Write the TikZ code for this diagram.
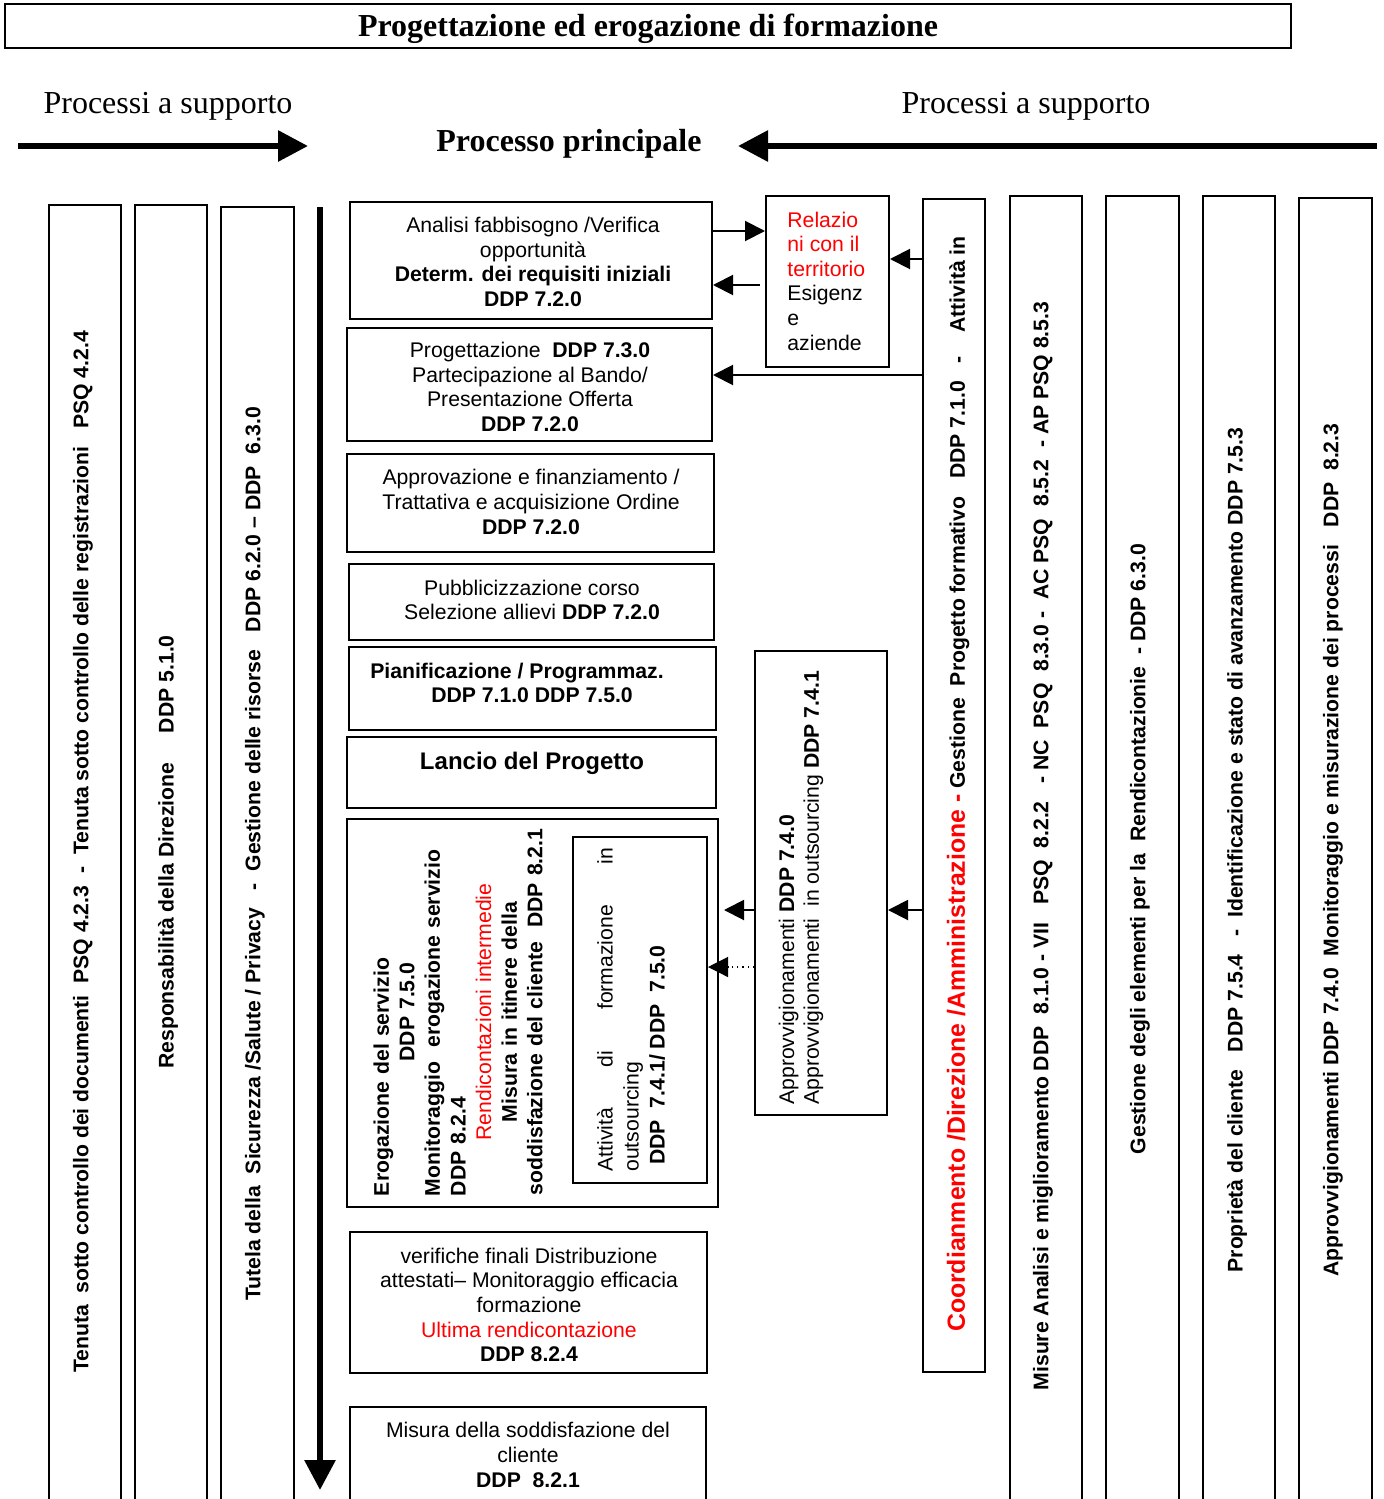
\documentclass[tikz,border=0pt]{standalone}
\usepackage{fontspec}
\setmainfont{Liberation Sans}
\newfontfamily\tnr{Liberation Serif}
\usetikzlibrary{arrows.meta,fit}
\definecolor{wred}{RGB}{255,0,0}
\begin{document}
\begin{tikzpicture}[x=0.5pt,y=-0.5pt,
  box/.style={draw, line width=1pt, inner sep=0pt},
  txt/.style={inner sep=0pt, font=\fontsize{10.6}{12.3}\selectfont, align=center},
  vt/.style={inner sep=0pt, rotate=90, font=\fontsize{10.6}{12.3}\selectfont\bfseries},
  con/.style={line width=1pt, -{Triangle[length=10pt,width=10pt]}},
  dcon/.style={line width=0.6pt, dotted, -{Triangle[length=10pt,width=10pt]}},
  big/.style={line width=3pt, -{Triangle[length=15pt,width=15pt]}},
  serif/.style={inner sep=0pt, font=\tnr\fontsize{16}{19}\selectfont},
  serifb/.style={inner sep=0pt, font=\tnr\bfseries\fontsize{16}{19}\selectfont}
]
\useasboundingbox (0,0) rectangle (1383,1499);
\fill[white] (0,0) rectangle (1383,1499);

% title
\node[box, minimum width=643pt, minimum height=22pt] (title) at (648,26) {};
\node[serifb] (titlet) at (648,29) {Progettazione ed erogazione di formazione};

\node[serif] (ps1) at (168,106) {Processi a supporto};
\node[serif] (ps2) at (1026,106) {Processi a supporto};
\node[serifb] (pp) at (569,144) {Processo principale};

\coordinate (la1) at (18,146); \coordinate (la2) at (308,146);
\draw[big] (la1) -- (la2);
\coordinate (ra1) at (1377,146); \coordinate (ra2) at (738,146);
\draw[big] (ra1) -- (ra2);
\coordinate (va1) at (320,207); \coordinate (va2) at (320,1490);
\draw[big] (va1) -- (va2);

% left support columns
\node[box, fit={(49,205)(121,1520)}] (L1) {};
\node[vt] (L1t) at (83,852) {Tenuta\ \ sotto controllo dei documenti\ \ PSQ 4.2.3\ \ -\ \ Tenuta sotto controllo delle registrazioni\ \ \ PSQ 4.2.4};
\node[box, fit={(135,205)(207,1520)}] (L2) {};
\node[vt] (L2t) at (168,852) {Responsabilità della Direzione\ \ \ \ \ DDP 5.1.0};
\node[box, fit={(221,207)(294,1520)}] (L3) {};
\node[vt] (L3t) at (255,854) {Tutela della\ \ Sicurezza /Salute / Privacy\ \ \ -\ \ Gestione delle risorse\ \ \ DDP 6.2.0 – DDP\ \ 6.3.0};

% right support columns
\node[box, fit={(923,199)(985,1372)}] (co) {};
\node[vt] (cot) at (958,784) {{\fontsize{12.4}{14}\selectfont\color{wred}Coordianmento /Direzione /Amministrazione -} Gestione\ \ Progetto formativo\ \ \ DDP 7.1.0\ \ \ -\ \ \ \ Attività in};
\node[box, fit={(1010,196)(1082,1520)}] (R1) {};
\node[vt] (R1t) at (1043,846) {Misure Analisi e miglioramento DDP\ \ 8.1.0 - VII\ \ \ PSQ\ \ 8.2.2\ \ \ - NC\ \ PSQ\ \ 8.3.0 -\ \ AC PSQ\ \ 8.5.2\ \ - AP PSQ 8.5.3};
\node[box, fit={(1106,196)(1179,1520)}] (R2) {};
\node[vt] (R2t) at (1140,849) {Gestione degli elementi per la\ \ Rendicontazionie\ \ - DDP 6.3.0};
\node[box, fit={(1203,196)(1275,1520)}] (R3) {};
\node[vt] (R3t) at (1237,850) {Proprietà del cliente\ \ \ DDP 7.5.4\ \ \ -\ \ Identificazione e stato di avanzamento DDP 7.5.3};
\node[box, fit={(1299,198)(1372,1520)}] (R4) {};
\node[vt] (R4t) at (1333,850) {Approvvigionamenti DDP 7.4.0\ \ Monitoraggio e misurazione dei processi\ \ \ DDP\ \ 8.2.3};

% main process boxes
\node[box, fit={(350,202)(712,319)}] (b1) {};
\node[txt] (b1t) at (533,262) {Analisi fabbisogno /Verifica\\opportunità\\\textbf{Determ. dei requisiti iniziali}\\\textbf{DDP 7.2.0}};
\node[box, fit={(347,328)(712,441)}] (b2) {};
\node[txt] (b2t) at (530,387) {Progettazione\ \ \textbf{DDP 7.3.0}\\Partecipazione al Bando/\\Presentazione Offerta\\\textbf{DDP 7.2.0}};
\node[box, fit={(347,454)(714,552)}] (b3) {};
\node[txt] (b3t) at (531,502) {Approvazione e finanziamento /\\Trattativa e acquisizione Ordine\\\textbf{DDP 7.2.0}};
\node[box, fit={(349,564)(714,640)}] (b4) {};
\node[txt] (b4t) at (532,600) {Pubblicizzazione corso\\Selezione allievi \textbf{DDP 7.2.0}};
\node[box, fit={(349,647)(716,730)}] (b5) {};
\node[txt, font=\fontsize{10.6}{12.3}\selectfont\bfseries] (b5t) at (532,683) {Pianificazione / Programmaz.\hspace*{15pt}\\DDP 7.1.0 DDP 7.5.0};
\node[box, fit={(347,737)(716,808)}] (b6) {};
\node[txt, font=\fontsize{12}{14}\selectfont\bfseries] (b6t) at (532,763) {Lancio del Progetto};
\node[box, fit={(347,819)(718,1207)}] (b7) {};
\node[txt, rotate=90, text width=184pt, font=\fontsize{10.6}{12.8}\selectfont\bfseries] (b7t) at (458,1012) {%
Erogazione del servizio\hfill\mbox{}\\
DDP 7.5.0\\
Monitoraggio\ \ erogazione servizio\hfill\mbox{}\\
DDP 8.2.4\hfill\mbox{}\\
{\mdseries\color{wred}Rendicontazioni intermedie}\\
Misura in itinere della\\
soddisfazione del cliente\ \ DDP 8.2.1};
\node[box, fit={(573,837)(707,1183)}] (in) {};
\node[inner sep=0pt, rotate=90, anchor=west, align=left, font=\fontsize{10.6}{13}\selectfont] (int) at (631,1172) {%
\makebox[162pt][s]{Attività\hfill di\hfill formazione\hfill in}\\
outsourcing\\
\hspace*{3.5pt}\textbf{DDP\ \ 7.4.1/ DDP\ \ 7.5.0}};
\node[box, fit={(350,1232)(707,1373)}] (b8) {};
\node[txt] (b8t) at (529,1305) {verifiche finali Distribuzione\\attestati– Monitoraggio efficacia\\formazione\\{\color{wred}Ultima rendicontazione}\\\textbf{DDP 8.2.4}};
\node[box, fit={(350,1407)(706,1520)}] (b9) {};
\node[txt] (b9t) at (528,1455) {Misura della soddisfazione del\\cliente\\\textbf{DDP\ \ 8.2.1}};

% side boxes
\node[box, fit={(766,196)(889,367)}] (rel) {};
\node[inner sep=0pt, anchor=west, align=left, font=\fontsize{10.6}{12.3}\selectfont] (relt) at (787,281) {{\color{wred}Relazio}\\{\color{wred}ni con il}\\{\color{wred}territorio}\\Esigenz\\e\\aziende};
\node[box, fit={(755,651)(887,1115)}] (app) {};
\node[inner sep=0pt, rotate=90, anchor=west, align=left, font=\fontsize{10.6}{12.3}\selectfont] (appt) at (801,1105) {Approvvigionamenti \textbf{DDP 7.4.0}\\Approvvigionamenti\ \ in outsourcing \textbf{DDP 7.4.1}};

% connectors
\coordinate (y231) at (0,231);
\coordinate (y259) at (0,259);
\coordinate (y375) at (0,375);
\coordinate (y910) at (0,910);
\coordinate (y967) at (0,967);
\coordinate (r1) at (760,285);
\draw[con] (b1.east |- y231) -- (rel.west |- y231);
\draw[con] (r1) -- (b1.east |- r1);
\draw[con] (co.west |- y259) -- (rel.east |- y259);
\draw[con] (co.west |- y375) -- (b2.east |- y375);
\draw[con] (co.west |- y910) -- (app.east |- y910);
\draw[con, shorten >=2.5pt] (app.west |- y910) -- (b7.east |- y910);
\draw[dcon] (app.west |- y967) -- (in.east |- y967);
\end{tikzpicture}
\end{document}
